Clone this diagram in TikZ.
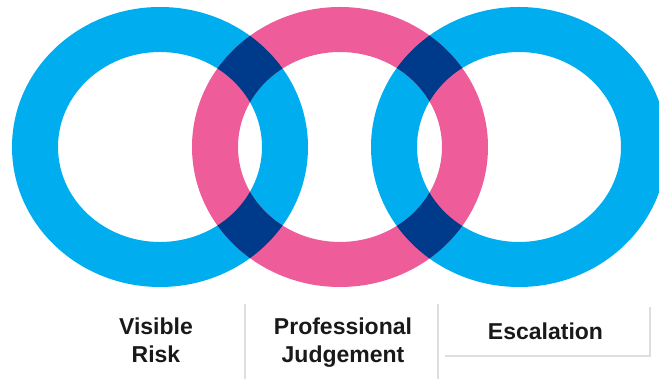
\documentclass[tikz,border=0pt]{standalone}
\usepackage{fontspec}
\setmainfont{Liberation Sans}
\definecolor{ringblue}{RGB}{0,174,239}
\definecolor{ringpink}{RGB}{238,92,153}
\definecolor{ringnavy}{RGB}{0,59,139}
\definecolor{rulegrey}{RGB}{222,222,222}

\begin{document}
\begin{tikzpicture}[x=1pt, y=1pt,
  ringtext/.style={font=\fontsize{23}{28}\selectfont\bfseries, text=black!90, align=center, inner sep=0pt},
  seprule/.style={draw=rulegrey, line width=1.5pt}]

\useasboundingbox (0,0) rectangle (659,379);
\clip (0,0) rectangle (659,379);

\coordinate (L) at (160,232);
\coordinate (M) at (340,232);
\coordinate (R) at (519,232);

\fill[ringblue, even odd rule] (L) ellipse [x radius=148, y radius=140] (L) ellipse [x radius=102, y radius=95];
\fill[ringblue, even odd rule] (R) ellipse [x radius=148, y radius=140] (R) ellipse [x radius=102, y radius=95];
\fill[ringpink, even odd rule] (M) ellipse [x radius=148, y radius=140] (M) ellipse [x radius=102, y radius=95];

\begin{scope}[even odd rule]
\clip (M) ellipse [x radius=148, y radius=140] (M) ellipse [x radius=102, y radius=95];
\fill[ringnavy] (L) ellipse [x radius=148, y radius=140] (L) ellipse [x radius=102, y radius=95];
\fill[ringnavy] (R) ellipse [x radius=148, y radius=140] (R) ellipse [x radius=102, y radius=95];
\end{scope}

\node[ringtext, anchor=north] (visible) at (156,61) {Visible\\Risk};
\node[ringtext, anchor=north] (professional) at (343,61) {Professional\\Judgement};
\node[ringtext, anchor=base] (escalation) at (545.5,39) {Escalation};

\draw[seprule] (245,0) -- (245,75);
\draw[seprule] (438,0) -- (438,75);
\draw[seprule] (445,23) -- (650,23) -- (650,72);

\end{tikzpicture}
\end{document}
